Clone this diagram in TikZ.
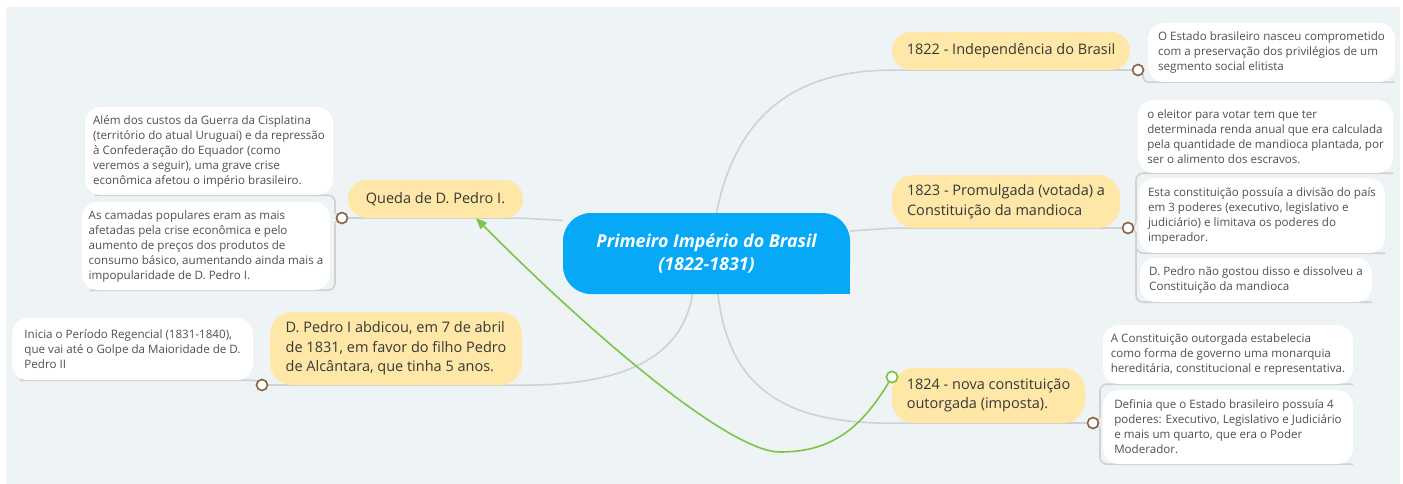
\documentclass[tikz,border=0pt]{standalone}
\usepackage{fontspec}
\setmainfont{Open Sans}
\usetikzlibrary{arrows.meta,backgrounds}

\begin{document}
\begin{tikzpicture}[x=1pt,y=-1pt,
  root/.style={fill=col_root,text=white,font=\fontsize{17.8}{23}\selectfont\bfseries\itshape,
    align=center,rounded corners=28pt,inner sep=0pt},
  topic/.style={fill=col_topic,text=col_lab_topic,font=\fontsize{14.5}{19.5}\selectfont,
    align=left,inner sep=0pt},
  leaf/.style={fill=white,text=col_lab_leaf,font=\fontsize{11.6}{15}\selectfont,
    align=left,rounded corners=16pt,inner sep=0pt},
  knob/.style={circle,draw=col_knob,fill=white,line width=1.6pt,minimum size=11pt,inner sep=0pt},
  relknob/.style={circle,draw=col_link,fill=white,line width=1.6pt,minimum size=11pt,inner sep=0pt},
  branch/.style={draw=col_branch,line width=1.6pt},
  link/.style={draw=col_link,line width=1.6pt,-{Triangle[length=11pt,width=9pt]}}]
%
\definecolor{col_bg}{RGB}{238,243,246}
\definecolor{col_root}{RGB}{7,168,246}
\definecolor{col_topic}{RGB}{254,231,167}
\definecolor{col_lab_topic}{RGB}{55,55,55}
\definecolor{col_lab_leaf}{RGB}{80,80,80}
\definecolor{col_knob}{RGB}{139,94,60}
\definecolor{col_branch}{RGB}{206,210,213}
\definecolor{col_link}{RGB}{126,196,70}
%
\useasboundingbox (0,0) rectangle (1403,484);
%
% centre
\node[root,minimum width=287pt,minimum height=81pt] (root) at (706.5,253.5)
  {Primeiro Império do Brasil\\(1822-1831)};
\fill[col_root] (root.south east) rectangle ++(-30,-30);
%
% topics
\node[topic,align=center,minimum width=238pt,minimum height=38pt,rounded corners=19pt] (t1822) at (1011,51)
  {1822 - Independência do Brasil};
\node[topic,minimum width=228pt,minimum height=53pt,rounded corners=22pt] (t1823) at (1006,201.5)
  {1823 - Promulgada (votada) a\\Constituição da mandioca};
\node[topic,minimum width=193pt,minimum height=55pt,rounded corners=22pt] (t1824) at (988.5,395.5)
  {1824 - nova constituição\\outorgada (imposta).};
\node[topic,align=center,minimum width=175pt,minimum height=38pt,rounded corners=19pt] (tqueda) at (435.5,199)
  {Queda de D. Pedro I.};
\node[topic,minimum width=252pt,minimum height=73pt,rounded corners=22pt] (tabdic) at (396,348.5)
  {D. Pedro I abdicou, em 7 de abril\\de 1831, em favor do filho Pedro\\de Alcântara, que tinha 5 anos.};
%
% leaves
\node[leaf,minimum width=247pt,minimum height=59pt] (c1822) at (1271.5,52.5)
  {O Estado brasileiro nasceu comprometido\\com a preservação dos privilégios de um\\segmento social elitista};
\node[leaf,minimum width=255pt,minimum height=73pt] (c1823a) at (1265.5,136.5)
  {o eleitor para votar tem que ter\\determinada renda anual que era calculada\\pela quantidade de mandioca plantada, por\\ser o alimento dos escravos.};
\node[leaf,minimum width=246pt,minimum height=75pt] (c1823b) at (1262,215.5)
  {Esta constituição possuía a divisão do país\\em 3 poderes (executivo, legislativo e\\judiciário) e limitava os poderes do\\imperador.};
\node[leaf,minimum width=232pt,minimum height=44pt] (c1823c) at (1256,280)
  {D. Pedro não gostou disso e dissolveu a\\Constituição da mandioca};
\node[leaf,minimum width=250pt,minimum height=59pt] (c1824a) at (1228,354.5)
  {A Constituição outorgada estabelecia\\como forma de governo uma monarquia\\hereditária, constitucional e representativa.};
\node[leaf,minimum width=250pt,minimum height=74pt] (c1824b) at (1228,427)
  {Definia que o Estado brasileiro possuía 4\\poderes: Executivo, Legislativo e Judiciário\\e mais um quarto, que era o Poder\\Moderador.};
\node[leaf,minimum width=248pt,minimum height=88pt] (cqa) at (209,151)
  {Além dos custos da Guerra da Cisplatina\\(território do atual Uruguai) e da repressão\\à Confederação do Equador (como\\veremos a seguir), uma grave crise\\econômica afetou o império brasileiro.};
\node[leaf,minimum width=248pt,minimum height=88pt] (cqb) at (206,246)
  {As camadas populares eram as mais\\afetadas pela crise econômica e pelo\\aumento de preços dos produtos de\\consumo básico, aumentando ainda mais a\\impopularidade de D. Pedro I.};
\node[leaf,minimum width=241pt,minimum height=62pt] (cab) at (132.5,349)
  {Inicia o Período Regencial (1831-1840),\\que vai até o Golpe da Maioridade de D.\\Pedro II};
%
% knobs
\node[knob] (n1822) at (1138,70) {};
\node[knob] (n1823) at (1128,228) {};
\node[knob] (n1824) at (1093,423) {};
\node[knob] (nqueda) at (342,218) {};
\node[knob] (nabdic) at (262,385) {};
\coordinate (b1822) at (1143,70);
\coordinate (b1823) at (1136,228);
\coordinate (b1824) at (1100,423);
\coordinate (bqueda) at (335,218);
%
\begin{scope}[on background layer]
\fill[white] (0,0) rectangle (1403,484);
\fill[col_bg] (6,7) rectangle (1400,484);
%
\draw[branch] ([xshift=10pt]root.north) .. controls (735,120) and (790,70) .. (t1822.south west) -- (n1822);
\draw[branch] ([yshift=22.5pt]root.east) -- (t1823.south west) -- (n1823);
\draw[branch] ([xshift=11.5pt]root.south) .. controls (730,400) and (800,423) .. (t1824.south west) -- (n1824);
\draw[branch] ([yshift=33pt]root.west) -- (tqueda.south east) -- (nqueda);
\draw[branch] ([xshift=-14pt]root.south) .. controls (680,370) and (600,385) .. (tabdic.south east) -- (nabdic);
%
\draw[branch,rounded corners=6pt] (n1822.center) -- (b1822) |- (c1822.south east);
\draw[branch,rounded corners=7pt] (n1823.center) -- (b1823) |- (c1823a.south east);
\draw[branch,rounded corners=7pt] (n1823.center) -- (b1823) |- (c1823b.south east);
\draw[branch,rounded corners=7pt] (n1823.center) -- (b1823) |- (c1823c.south east);
\draw[branch,rounded corners=7pt] (n1824.center) -- (b1824) |- (c1824a.south east);
\draw[branch,rounded corners=7pt] (n1824.center) -- (b1824) |- (c1824b.south east);
\draw[branch,rounded corners=7pt] (nqueda.center) -- (bqueda) |- ([xshift=10pt]cqa.south west);
\draw[branch,rounded corners=7pt] (nqueda.center) -- (bqueda) |- ([xshift=8pt]cqb.south west);
\draw[branch] (nabdic.center) .. controls (255,380) .. (cab.south east) -- ([xshift=8pt]cab.south west);
\end{scope}
%
% relation
\node[relknob] (nrel) at (892,377) {};
\draw[link] (nrel) .. controls (860,430) and (830,452) .. (780,452)
  .. controls (730,452) and (596,339) .. ([xshift=40.5pt]tqueda.south);
\node[relknob] at (nrel) {};
%
\end{tikzpicture}
\end{document}
